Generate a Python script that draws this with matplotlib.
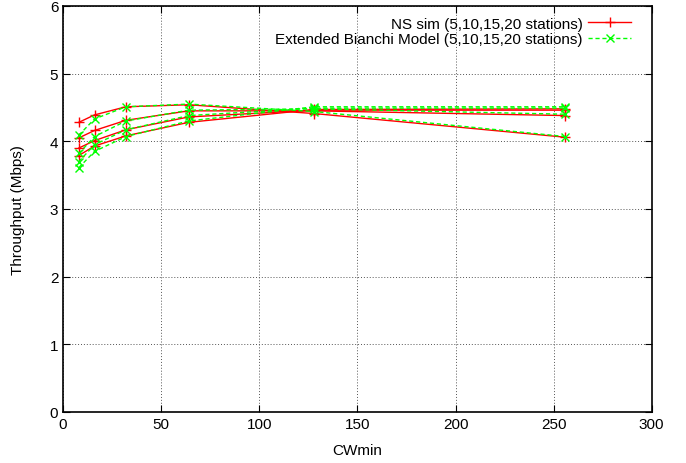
import matplotlib
matplotlib.use("Agg")
import matplotlib.pyplot as plt
import numpy as np

plt.rcParams['font.family'] = ['Liberation Sans', 'DejaVu Sans']

cwmin = [8, 16, 32, 64, 128, 256]
stations = [5, 10, 15, 20]

# NS simulation throughput (Mbps), one row per station count
ns_sim = [
    [4.28, 4.39, 4.51, 4.54, 4.41, 4.06],
    [4.05, 4.16, 4.31, 4.45, 4.45, 4.38],
    [3.90, 4.01, 4.17, 4.36, 4.46, 4.46],
    [3.79, 3.93, 4.08, 4.28, 4.47, 4.48],
]

# extended Bianchi model, same station counts
bianchi = [
    [4.09, 4.33, 4.51, 4.55, 4.44, 4.07],
    [3.82, 4.07, 4.30, 4.46, 4.48, 4.40],
    [3.70, 3.95, 4.17, 4.38, 4.49, 4.49],
    [3.61, 3.85, 4.07, 4.30, 4.51, 4.51],
]

fig = plt.figure(figsize=(6.86, 4.64), dpi=100)
ax = fig.add_axes([0.092, 0.110, 0.858, 0.875])

for i in range(len(stations)):
    ax.plot(cwmin, ns_sim[i], '-', color='#ff0000', marker='+', ms=7, mew=1.0, lw=1.0,
            label='NS sim (5,10,15,20 stations)' if i == 0 else None)
for i in range(len(stations)):
    ax.plot(cwmin, bianchi[i], '--', color='#00ff00', marker='x', ms=6, mew=1.0, lw=1.0,
            dashes=(3, 2),
            label='Extended Bianchi Model (5,10,15,20 stations)' if i == 0 else None)

ax.set_xlim(0, 300)
ax.set_ylim(0, 6)
ax.set_xticks(np.arange(0, 301, 50))
ax.set_yticks(np.arange(0, 7, 1))
ax.grid(True, linestyle=(0, (1, 2)), color='#555555', lw=0.7)
ax.tick_params(direction='in', top=True, right=True, length=5, labelsize=11)
for s in ax.spines.values():
    s.set_linewidth(1.2)

ax.set_xlabel('CWmin', fontsize=11, labelpad=9)
ax.set_ylabel('Throughput (Mbps)', fontsize=11, labelpad=18)

leg = ax.legend(loc='upper right', bbox_to_anchor=(0.983, 1.0), frameon=False,
                markerfirst=False, fontsize=11, handlelength=2.8, handletextpad=0.35,
                borderaxespad=0.3, labelspacing=0.1)
for t in leg.get_texts():
    t.set_ha('right')
leg._legend_box.align = 'right'

fig.savefig('out.png', dpi=100)
